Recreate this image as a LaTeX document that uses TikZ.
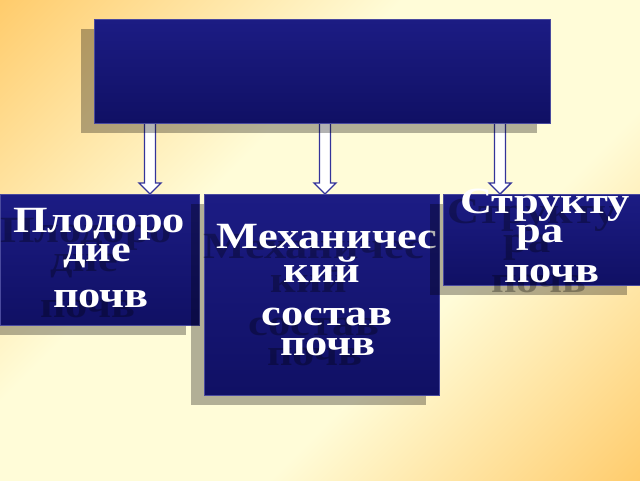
\documentclass[tikz,border=0pt]{standalone}
\usepackage{fontspec}
\newfontfamily\boxfont{Liberation Serif}[BoldFont={Liberation Serif Bold},FakeStretch=1.2]
\usetikzlibrary{calc}
\definecolor{bgorange}{HTML}{FFC966}
\definecolor{bgpale}{HTML}{FFFCD8}
\definecolor{boxtop}{HTML}{1C1C84}
\definecolor{boxbot}{HTML}{101064}
\definecolor{boxedge}{HTML}{4A4A9E}
\definecolor{arrowedge}{HTML}{34349A}
\pgfdeclareverticalshading{bgdiag}{100bp}{color(0bp)=(bgorange); color(13bp)=(bgorange); color(38bp)=(bgpale); color(60bp)=(bgpale); color(87bp)=(bgorange); color(100bp)=(bgorange)}
\tikzset{
  bluebox/.style={anchor=north west, inner sep=0pt, outer sep=0pt,
    top color=boxtop, bottom color=boxbot, draw=boxedge, line width=0.7pt},
  boxshadow/.style={anchor=north west, inner sep=0pt, outer sep=0pt,
    fill=black, fill opacity=0.3},
  txt/.style={anchor=base, inner sep=0pt, text=white,
    font=\boxfont\bfseries\fontsize{37}{37}\selectfont},
  txtshadow/.style={txt, text=black, text opacity=0.3},
  barrow/.style={draw=arrowedge, fill=white, line width=1.4pt, line join=miter}
}
\newcommand\mylabel[4]{%
  \node[txtshadow] (#1s) at (#2-13,#3+10) {#4};
  \node[txt] (#1) at (#2,#3) {#4};}
\newcommand\blockarrow[2]{%
  \draw[barrow] ($(#1)+(-5.5,0)$) -- ($(#1|-#2.north)+(-5.5,-11)$) -- ++(-5.5,0)
    -- (#1|-#2.north) -- ++(11,-11) -- ++(-5.5,0) -- ($(#1)+(5.5,0)$) -- cycle;}
\begin{document}
\begin{tikzpicture}[x=1pt,y=-1pt]
\useasboundingbox (0,0) rectangle (640,480);
\begin{scope}
\clip (0,0) rectangle (640,480);
\begin{scope}[y=1pt]
\shade[shading=bgdiag, shading angle=45] (0,0) rectangle (640,-480);
\end{scope}
\end{scope}
% box geometry (nodes)
\coordinate (a1) at (150,112);
\coordinate (a2) at (325,112);
\coordinate (a3) at (500,112);
\path (0,194) node[anchor=north west, minimum width=199pt, minimum height=131pt, inner sep=0pt] (leftpos) {};
\path (204,194) node[anchor=north west, minimum width=235pt, minimum height=201pt, inner sep=0pt] (midpos) {};
\path (443,194) node[anchor=north west, minimum width=197pt, minimum height=91pt, inner sep=0pt] (rightpos) {};
% arrows
\blockarrow{a1}{leftpos}
\blockarrow{a2}{midpos}
\blockarrow{a3}{rightpos}
% top box
\node[boxshadow, minimum width=456pt, minimum height=104pt] (tops) at (81,29) {};
\node[bluebox, minimum width=456pt, minimum height=104pt] (top) at (94,19) {};
% left box
\node[boxshadow, minimum width=199pt, minimum height=131pt] (lefts) at (-13,204) {};
\node[bluebox, minimum width=199pt, minimum height=131pt] (left) at (0,194) {};
\mylabel{l1}{99}{232}{Плодоро}
\mylabel{l2}{97}{261}{дие}
\mylabel{l3}{101}{307}{почв}
% middle box
\node[boxshadow, minimum width=235pt, minimum height=201pt] (mids) at (191,204) {};
\node[bluebox, minimum width=235pt, minimum height=201pt] (mid) at (204,194) {};
\mylabel{m1}{327}{248}{Механичес}
\mylabel{m2}{322}{282}{кий}
\mylabel{m3}{327}{325}{состав}
\mylabel{m4}{328}{355}{почв}
% right box
\node[boxshadow, minimum width=197pt, minimum height=91pt] (rights) at (430,204) {};
\node[bluebox, minimum width=197pt, minimum height=91pt] (right) at (443,194) {};
\mylabel{r1}{545}{213}{Структу}
\mylabel{r2}{540}{242}{ра}
\mylabel{r3}{552}{282}{почв}
\end{tikzpicture}
\end{document}
